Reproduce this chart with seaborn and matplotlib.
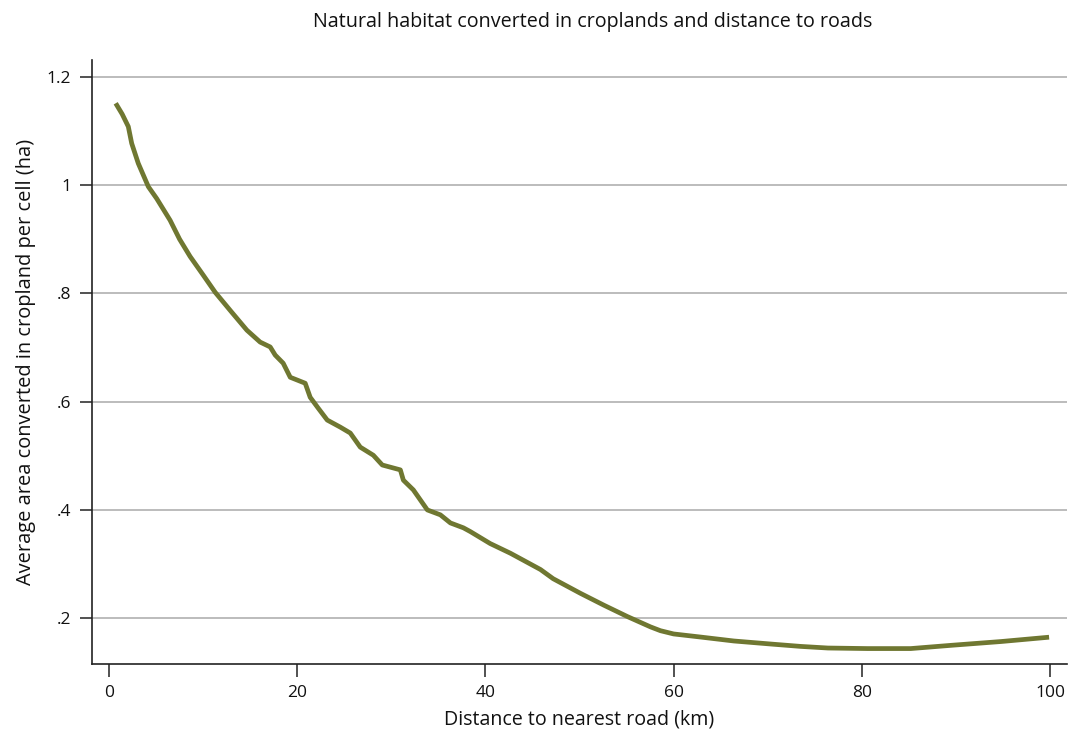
import matplotlib
matplotlib.use("Agg")
import matplotlib.pyplot as plt
import seaborn as sns
import pandas as pd

# Smoothed average converted area (ha per cell) against distance to nearest road (km)
distance_km = [0.71, 1.4, 2.05, 2.41, 3.11, 4.18, 5.07, 6.49, 7.5, 8.62, 10.0, 11.28, 13.0,
               14.65, 16.06, 17.13, 17.66, 18.51, 19.26, 20.85, 21.38, 22.23, 23.19,
               24.57, 25.64, 26.70, 28.09, 29.04, 30.96, 31.28, 32.34, 33.83, 35.21,
               36.28, 37.66, 38.4, 40.5, 42.66, 45.85, 47.2, 50.1, 52.6, 55.1, 57.55,
               58.6, 60.0, 63.0, 66.4, 70.6, 73.5, 76.4, 80.6, 85.2, 89.5, 94.8, 99.9]
converted_ha = [1.151, 1.131, 1.108, 1.077, 1.040, 0.997, 0.975, 0.935, 0.900, 0.868,
                0.834, 0.802, 0.766, 0.732, 0.710, 0.701, 0.686, 0.671, 0.645, 0.634,
                0.608, 0.588, 0.566, 0.553, 0.542, 0.516, 0.501, 0.483, 0.474, 0.455,
                0.437, 0.400, 0.391, 0.376, 0.367, 0.360, 0.338, 0.320, 0.290, 0.273,
                0.246, 0.224, 0.203, 0.184, 0.177, 0.171, 0.165, 0.158, 0.152, 0.148,
                0.145, 0.144, 0.144, 0.150, 0.157, 0.165]

x_ticks = [0, 20, 40, 60, 80, 100]
y_ticks = [0.2, 0.4, 0.6, 0.8, 1.0, 1.2]
y_tick_labels = [".2", ".4", ".6", ".8", "1", "1.2"]

df = pd.DataFrame({"distance": distance_km, "area": converted_ha})

sns.set_theme(style="white")
plt.rcParams["font.family"] = ["Open Sans", "DejaVu Sans"]

fig = plt.figure(figsize=(10.72, 7.34), dpi=100)
ax = fig.add_axes([0.0858, 0.095, 0.9095, 0.8233])

for yv in y_ticks:
    ax.axhline(yv, color="#a9a9a9", lw=1.1, zorder=1)

sns.lineplot(data=df, x="distance", y="area", ax=ax, color="#6f7731",
             lw=3.4, zorder=3, solid_capstyle="butt", solid_joinstyle="round")

ax.set_xlim(-1.81, 101.8)
ax.set_ylim(0.115, 1.231)
ax.set_xticks(x_ticks)
ax.set_xticklabels([str(v) for v in x_ticks])
ax.set_yticks(y_ticks)
ax.set_yticklabels(y_tick_labels)

for side in ("top", "right"):
    ax.spines[side].set_visible(False)
for side in ("left", "bottom"):
    ax.spines[side].set_color("#222222")
    ax.spines[side].set_linewidth(1.2)

ax.tick_params(axis="both", which="major", direction="out", length=9, width=1.1,
               color="#222222", labelsize=12.5, labelcolor="#111111", pad=6,
               left=True, bottom=True)

ax.set_xlabel("Distance to nearest road (km)", fontsize=14.1, color="#111111", labelpad=6)
ax.set_ylabel("Average area converted in cropland per cell (ha)", fontsize=14.4,
              color="#111111", labelpad=8)
fig.suptitle("Natural habitat converted in croplands and distance to roads",
             fontsize=14.2, color="#111111", x=0.553, y=0.983)

fig.savefig("out.png", dpi=100)
